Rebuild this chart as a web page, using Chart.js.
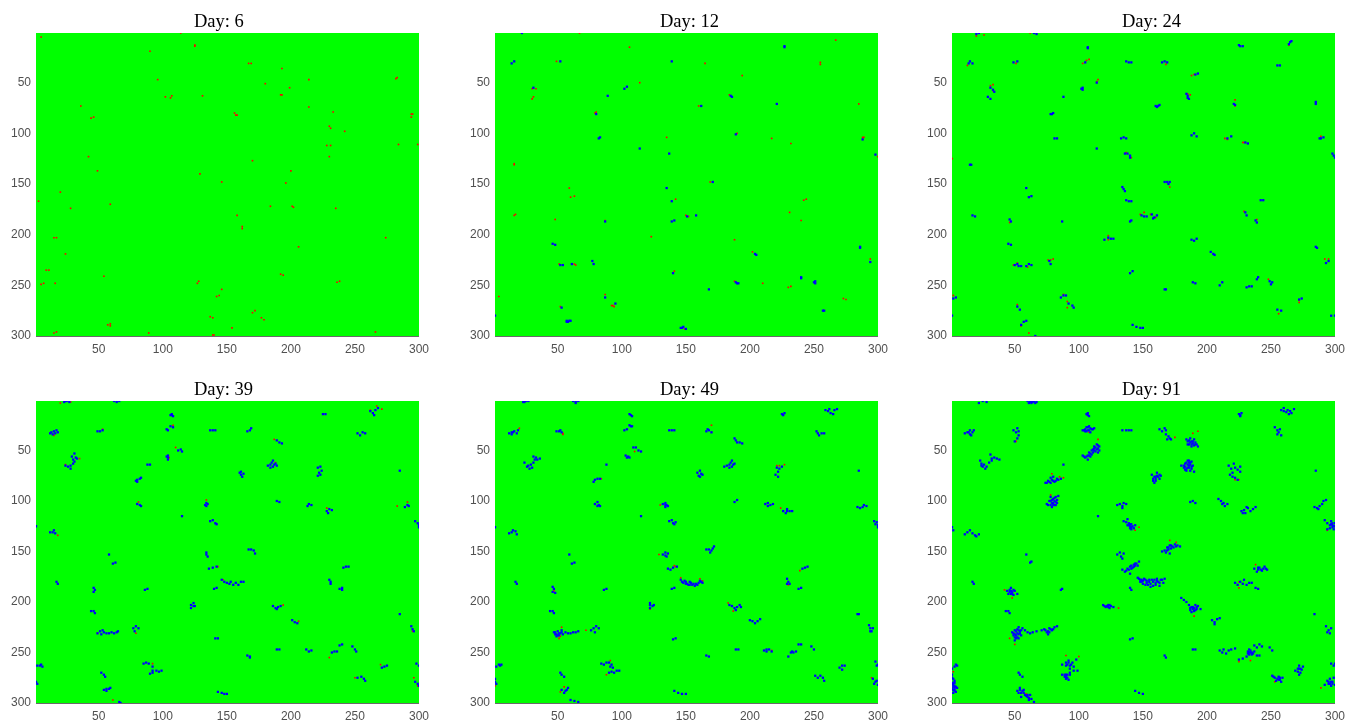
<!DOCTYPE html>
<html>
<head>
<meta charset="utf-8">
<title>Day panels</title>
<script src="https://cdn.jsdelivr.net/npm/chart.js@4"></script>
<style>
  html, body { margin: 0; padding: 0; background: #fff; overflow: hidden; }
  canvas { position: absolute; }
</style>
</head>
<body>
<script>
const tickValues = [50, 100, 150, 200, 250, 300];
const dayNames = ["Day: 6", "Day: 12", "Day: 24", "Day: 39", "Day: 49", "Day: 91"];

// [column, row] cells
const day6Red = [[5,5],[114,1],[90,19],[125,13],[125,14],[167,31],[169,31],[193,36],[96,47],[180,51],[214,47],[199,55],[282,46],[283,45],[192,62],[193,62],[102,64],[106,65],[107,63],[131,63],[36,73],[214,74],[156,80],[157,82],[158,82],[233,79],[44,85],[46,84],[294,81],[295,81],[294,84],[230,93],[231,95],[242,98],[284,111],[299,111],[228,112],[231,112],[230,123],[42,123],[170,127],[49,137],[200,137],[129,140],[146,148],[196,149],[20,158],[3,167],[59,170],[28,174],[184,172],[201,172],[202,173],[235,174],[158,181],[162,192],[162,194],[274,203],[15,203],[17,203],[206,212],[24,219],[9,235],[11,235],[54,241],[192,239],[194,240],[128,246],[127,248],[5,249],[7,248],[16,248],[236,247],[238,246],[146,254],[142,261],[144,260],[137,281],[139,282],[170,277],[172,275],[177,282],[179,284],[57,289],[59,288],[59,290],[15,297],[17,296],[89,297],[154,292],[139,299],[140,299],[266,296]];

const day12Blue = [[22,1],[14,31],[16,29],[52,29],[139,29],[227,14],[227,15],[31,55],[89,63],[102,56],[104,54],[185,63],[186,64],[162,73],[221,71],[80,81],[82,105],[83,104],[114,115],[288,106],[137,120],[298,121],[189,101],[171,148],[135,154],[139,167],[87,187],[139,187],[141,186],[158,181],[151,182],[46,209],[48,210],[286,212],[286,213],[204,219],[205,220],[52,230],[54,230],[61,229],[77,226],[78,229],[294,227],[140,238],[240,243],[240,242],[250,247],[251,248],[251,246],[189,247],[190,248],[191,248],[168,254],[95,268],[53,272],[57,286],[58,286],[59,285],[60,285],[57,285],[257,275],[258,275],[146,292],[147,292],[148,291],[150,293],[1,280],[87,262]];
const day12Red = [[67,1],[267,8],[106,15],[49,29],[165,31],[255,30],[255,32],[194,43],[114,50],[30,56],[33,56],[31,64],[30,66],[160,73],[184,62],[285,71],[79,80],[80,79],[135,104],[217,105],[232,110],[288,104],[289,104],[190,100],[300,123],[16,131],[16,130],[169,148],[59,154],[60,163],[63,162],[142,165],[242,166],[244,165],[231,178],[16,181],[17,180],[48,185],[240,186],[87,186],[150,181],[152,182],[123,202],[188,205],[202,217],[294,224],[51,229],[63,229],[64,230],[141,236],[188,246],[210,248],[230,252],[232,251],[4,261],[87,259],[92,270],[93,270],[94,271],[52,271],[273,263],[275,264],[149,293]];

const day24Blue = [[22,1],[20,2],[65,1],[67,2],[107,15],[107,16],[226,14],[225,13],[228,14],[265,10],[266,9],[264,12],[14,31],[15,29],[17,31],[49,30],[52,29],[137,29],[139,30],[141,30],[165,30],[167,29],[169,30],[255,33],[257,33],[105,30],[191,42],[193,41],[114,50],[31,55],[33,57],[34,59],[29,64],[31,66],[103,55],[103,57],[102,56],[88,64],[185,63],[185,65],[186,66],[184,61],[160,73],[162,73],[161,74],[163,72],[222,72],[221,71],[285,69],[285,71],[79,81],[80,80],[78,81],[81,105],[83,105],[133,105],[135,104],[137,105],[188,102],[190,100],[192,103],[216,105],[219,103],[230,109],[232,110],[288,105],[289,105],[291,104],[114,115],[136,120],[138,120],[140,122],[140,124],[298,120],[299,122],[300,124],[15,131],[16,131],[167,148],[169,148],[171,148],[170,150],[59,154],[61,163],[63,162],[134,153],[135,155],[136,157],[137,166],[139,167],[141,167],[242,166],[244,166],[17,181],[19,182],[46,185],[47,187],[87,187],[140,187],[141,186],[149,181],[151,182],[153,182],[157,180],[159,183],[161,181],[158,184],[230,178],[231,181],[238,186],[239,188],[120,205],[123,203],[125,204],[127,204],[188,205],[190,206],[192,204],[45,209],[47,210],[285,212],[286,213],[203,217],[205,219],[206,220],[50,230],[52,229],[53,231],[55,231],[59,231],[61,229],[63,230],[77,226],[78,229],[293,228],[295,226],[140,238],[142,236],[239,244],[240,242],[249,246],[250,249],[251,247],[189,247],[191,248],[210,250],[212,247],[231,252],[233,251],[235,251],[167,254],[168,254],[86,262],[88,260],[90,260],[92,268],[95,270],[96,272],[2,263],[4,262],[52,271],[54,274],[272,264],[274,263],[255,274],[258,275],[55,289],[57,286],[59,285],[142,289],[145,291],[148,292],[150,292],[1,280],[297,280],[300,280],[66,300]];
const day24Red = [[20,4],[26,3],[62,1],[264,13],[106,28],[108,27],[103,31],[13,33],[168,32],[51,31],[188,43],[190,42],[114,49],[115,47],[31,53],[33,52],[33,58],[185,61],[187,62],[222,67],[222,73],[289,103],[214,105],[216,106],[228,109],[229,109],[137,119],[141,124],[1,125],[171,153],[151,178],[148,180],[156,180],[160,183],[229,177],[239,185],[46,188],[123,201],[123,205],[52,228],[49,230],[60,232],[78,225],[80,224],[76,225],[292,224],[295,224],[248,244],[2,260],[88,259],[91,266],[52,269],[91,272],[272,265],[272,267],[256,278],[55,290],[61,297]];

const day39Blue = [[23,2],[25,1],[27,2],[24,1],[62,1],[64,2],[66,1],[106,15],[107,14],[108,16],[107,15],[225,14],[227,14],[262,11],[264,13],[265,15],[266,10],[268,8],[12,33],[13,32],[14,34],[15,31],[16,33],[17,30],[18,32],[49,31],[51,31],[53,30],[137,30],[139,30],[141,30],[166,31],[168,30],[169,28],[252,33],[254,35],[256,32],[258,33],[103,29],[104,30],[106,26],[108,27],[189,40],[191,42],[193,43],[104,55],[104,57],[104,59],[103,56],[112,50],[114,49],[115,51],[88,64],[90,64],[29,56],[31,53],[32,57],[30,59],[31,61],[33,58],[24,65],[26,66],[28,65],[30,63],[28,68],[182,65],[184,64],[185,62],[186,60],[187,64],[186,66],[188,63],[189,65],[184,67],[160,72],[161,74],[162,76],[163,73],[161,71],[221,67],[223,66],[224,70],[222,72],[221,75],[223,74],[285,70],[79,80],[80,79],[82,78],[83,77],[80,81],[80,103],[82,104],[83,105],[133,104],[134,105],[135,103],[134,102],[189,100],[191,101],[214,103],[216,104],[213,105],[228,110],[230,108],[232,109],[229,112],[289,106],[291,104],[292,105],[115,115],[137,120],[139,119],[141,122],[142,123],[1,125],[12,131],[14,131],[15,129],[16,132],[297,120],[299,122],[300,124],[300,126],[167,148],[169,148],[171,149],[172,152],[134,151],[134,153],[135,155],[58,153],[61,162],[63,161],[136,167],[139,166],[142,165],[241,166],[243,165],[245,165],[17,180],[18,182],[146,178],[148,180],[150,181],[152,182],[153,180],[155,183],[157,181],[159,183],[161,180],[163,180],[230,178],[231,180],[231,182],[238,187],[240,186],[240,188],[46,186],[47,188],[46,190],[86,188],[88,187],[140,187],[142,186],[122,203],[122,206],[124,201],[124,204],[125,204],[186,204],[188,206],[190,205],[192,204],[189,207],[44,209],[46,209],[47,211],[285,212],[201,218],[203,220],[205,221],[49,231],[51,229],[52,232],[53,228],[54,230],[56,231],[58,231],[60,230],[62,231],[64,230],[65,229],[77,226],[79,224],[81,226],[78,229],[294,224],[295,227],[296,229],[141,236],[143,236],[238,243],[240,242],[248,244],[250,247],[251,249],[189,247],[191,247],[212,247],[214,249],[216,248],[232,250],[234,249],[236,249],[166,253],[168,254],[168,255],[85,261],[87,260],[89,261],[92,264],[92,268],[90,271],[92,270],[95,268],[97,269],[99,268],[2,263],[4,263],[5,262],[6,264],[52,270],[54,272],[55,274],[271,265],[273,264],[275,263],[252,275],[255,274],[257,276],[258,278],[54,287],[56,288],[58,286],[59,285],[56,286],[143,289],[146,290],[148,291],[150,291],[1,279],[2,281],[298,261],[300,263],[297,279],[299,281],[300,283],[66,299],[67,300]];
const day39Red = [[20,3],[28,2],[267,6],[271,9],[262,10],[15,35],[108,25],[53,29],[110,47],[105,57],[35,58],[24,64],[187,39],[186,66],[188,62],[291,101],[283,105],[134,99],[81,101],[228,107],[142,123],[18,134],[143,165],[147,178],[270,262],[206,219],[49,231],[79,231],[194,203],[92,261],[250,275],[230,255],[295,229],[296,275],[299,283],[61,297]];

const day49Blue = [[23,2],[25,1],[27,1],[24,2],[62,1],[64,2],[66,1],[64,3],[106,14],[107,15],[108,16],[225,14],[226,15],[227,13],[259,10],[261,11],[263,13],[265,14],[266,10],[268,9],[262,9],[12,33],[14,34],[15,32],[16,31],[18,33],[19,30],[14,32],[49,31],[51,31],[53,32],[52,30],[137,30],[139,30],[141,30],[166,31],[167,29],[168,30],[170,32],[252,31],[253,33],[254,35],[256,33],[258,33],[102,30],[104,29],[106,25],[107,26],[108,26],[188,38],[189,40],[190,42],[192,42],[194,43],[103,55],[104,57],[105,56],[106,57],[109,47],[111,47],[113,50],[115,51],[88,64],[24,62],[26,66],[27,65],[29,64],[30,67],[31,62],[32,59],[31,56],[33,57],[34,59],[36,58],[28,68],[180,66],[182,65],[184,64],[185,62],[186,60],[187,64],[186,66],[188,63],[184,67],[159,72],[160,75],[161,76],[162,73],[163,74],[161,70],[221,67],[223,68],[225,66],[222,71],[220,74],[222,76],[285,70],[78,81],[79,79],[81,78],[83,78],[79,103],[81,101],[82,104],[83,105],[81,105],[132,103],[134,102],[135,104],[134,106],[136,105],[134,104],[188,101],[190,99],[212,103],[214,105],[216,104],[218,103],[214,102],[226,110],[228,112],[229,108],[231,110],[233,110],[229,110],[284,106],[286,107],[288,106],[289,104],[291,105],[115,115],[137,120],[139,119],[140,122],[141,123],[142,121],[1,126],[12,132],[14,131],[15,129],[17,130],[18,133],[297,120],[299,121],[300,124],[300,126],[298,123],[166,148],[168,148],[170,149],[171,147],[172,145],[169,151],[132,153],[134,151],[135,155],[136,152],[134,154],[59,153],[61,162],[63,161],[136,167],[138,168],[140,166],[143,165],[241,167],[243,166],[245,165],[17,180],[18,182],[146,178],[147,180],[148,181],[150,180],[151,182],[152,183],[154,181],[155,183],[157,184],[159,183],[160,181],[161,179],[162,180],[163,181],[149,179],[150,182],[153,180],[153,183],[156,182],[158,182],[229,177],[230,180],[231,182],[229,182],[238,187],[240,186],[46,185],[47,187],[46,190],[48,191],[86,188],[88,187],[139,187],[141,186],[122,201],[122,203],[122,206],[124,204],[125,203],[184,203],[186,204],[188,206],[190,205],[192,203],[189,208],[193,205],[44,209],[46,209],[47,211],[284,212],[285,212],[200,218],[202,219],[204,221],[206,219],[208,217],[47,230],[48,232],[49,234],[50,229],[52,231],[53,228],[54,232],[51,233],[56,230],[58,231],[48,230],[49,232],[50,233],[51,231],[53,230],[60,231],[62,230],[64,230],[66,229],[76,228],[78,226],[80,224],[82,226],[79,230],[293,223],[294,226],[295,229],[296,226],[294,229],[140,237],[142,236],[238,242],[240,242],[248,244],[250,247],[189,247],[191,247],[211,248],[213,249],[215,247],[217,249],[213,247],[230,254],[232,250],[233,249],[234,250],[236,249],[166,253],[168,254],[84,261],[86,262],[88,260],[90,260],[92,262],[91,264],[90,270],[92,269],[94,270],[96,268],[98,268],[93,265],[2,264],[4,262],[5,263],[6,262],[52,270],[53,272],[55,274],[270,265],[272,263],[274,263],[272,267],[251,273],[253,275],[255,273],[257,275],[258,278],[53,287],[55,290],[57,287],[58,285],[56,288],[141,288],[144,290],[147,291],[150,291],[1,276],[1,279],[2,281],[298,259],[299,263],[300,262],[296,276],[298,279],[300,282],[297,281],[299,278],[60,297],[63,298],[66,299]];
const day49Red = [[20,28],[54,34],[54,33],[170,25],[170,32],[110,51],[84,78],[221,65],[223,65],[227,64],[130,104],[224,107],[129,153],[141,164],[142,165],[146,176],[161,177],[163,179],[230,183],[47,189],[239,169],[122,207],[183,201],[187,209],[53,225],[52,234],[51,236],[72,228],[217,248],[91,258],[88,272],[55,284],[52,289],[1,283],[295,275]];

const day91Blue = [[22,3],[25,1],[28,2],[60,1],[62,2],[63,3],[64,2],[65,1],[66,3],[67,2],[63,1],[61,3],[106,14],[107,15],[108,16],[107,13],[225,14],[226,16],[227,13],[226,15],[258,10],[260,11],[262,12],[264,14],[263,10],[265,11],[268,9],[260,8],[266,13],[11,33],[13,32],[15,34],[15,30],[17,32],[18,30],[14,32],[16,35],[49,30],[51,32],[52,28],[53,31],[53,35],[52,38],[50,41],[134,30],[137,30],[139,30],[141,30],[163,29],[165,31],[167,28],[168,30],[168,34],[170,36],[171,38],[169,39],[172,39],[184,39],[185,41],[187,38],[188,41],[189,43],[190,39],[191,42],[192,44],[186,44],[188,46],[190,45],[253,27],[255,30],[256,32],[257,29],[255,34],[258,35],[103,30],[105,31],[106,27],[107,30],[108,26],[110,29],[112,28],[109,32],[105,29],[103,55],[105,57],[107,55],[108,52],[109,56],[110,50],[112,48],[113,51],[114,44],[115,48],[116,46],[110,54],[107,59],[115,52],[112,46],[88,64],[23,60],[24,63],[25,66],[26,64],[28,66],[27,68],[30,62],[32,58],[31,54],[32,60],[34,57],[36,58],[38,59],[24,65],[180,65],[182,67],[183,63],[185,60],[186,62],[187,64],[186,67],[188,61],[189,65],[184,70],[187,70],[190,71],[188,68],[183,69],[157,74],[158,78],[159,82],[160,76],[161,72],[162,76],[163,78],[164,75],[160,80],[217,65],[219,68],[221,63],[222,67],[224,69],[226,66],[226,71],[220,72],[218,74],[222,77],[224,79],[220,76],[285,70],[74,82],[76,80],[78,77],[80,80],[82,80],[84,79],[86,78],[78,82],[80,76],[75,103],[77,100],[78,96],[79,99],[80,102],[81,97],[82,104],[83,99],[84,95],[79,106],[80,104],[76,104],[130,104],[132,103],[134,105],[135,102],[137,103],[134,107],[187,101],[189,100],[191,102],[209,98],[211,100],[213,102],[214,105],[216,103],[212,103],[227,110],[229,109],[230,112],[232,107],[234,110],[236,108],[238,106],[228,112],[231,106],[284,106],[286,107],[288,105],[290,103],[291,100],[293,99],[287,108],[115,115],[135,120],[138,118],[139,122],[140,125],[141,123],[143,127],[141,128],[144,124],[138,124],[1,126],[2,129],[11,133],[13,131],[15,129],[17,132],[19,134],[20,135],[22,133],[292,119],[294,122],[296,124],[297,120],[298,126],[299,128],[300,122],[294,128],[300,125],[165,150],[167,149],[169,146],[170,148],[171,152],[172,144],[174,146],[175,143],[177,144],[179,145],[130,153],[132,151],[133,155],[135,152],[134,157],[59,153],[62,161],[63,160],[134,168],[136,170],[138,167],[140,172],[141,164],[142,166],[144,162],[146,164],[147,160],[143,163],[237,167],[239,170],[241,166],[243,169],[245,165],[247,168],[240,168],[17,180],[18,182],[146,176],[148,180],[149,178],[150,182],[151,177],[153,179],[154,183],[155,180],[157,178],[158,184],[160,181],[161,177],[162,180],[163,184],[165,178],[166,181],[167,177],[156,185],[222,181],[224,183],[226,180],[228,182],[229,178],[231,183],[233,181],[235,181],[238,186],[240,187],[44,189],[45,192],[46,188],[47,186],[48,190],[49,193],[50,189],[52,192],[86,188],[87,187],[140,186],[141,188],[119,203],[121,205],[123,203],[124,206],[125,204],[127,205],[180,196],[182,198],[184,200],[186,203],[187,206],[189,205],[191,203],[192,207],[190,209],[188,210],[193,204],[195,207],[43,209],[45,209],[46,211],[284,212],[204,218],[206,220],[208,217],[210,216],[206,222],[48,230],[49,233],[50,228],[51,236],[52,231],[53,225],[54,229],[55,233],[50,238],[56,226],[58,228],[53,236],[60,230],[62,231],[64,230],[67,229],[71,228],[73,227],[75,230],[77,226],[79,228],[81,225],[83,224],[76,232],[293,224],[295,228],[296,231],[294,230],[297,226],[140,237],[142,236],[237,243],[239,245],[241,242],[243,244],[249,245],[251,248],[189,247],[191,247],[210,248],[212,250],[213,247],[215,251],[217,248],[219,247],[222,246],[225,257],[228,256],[231,254],[233,250],[234,248],[235,252],[237,249],[239,253],[241,253],[233,247],[167,253],[168,255],[87,262],[90,260],[92,258],[94,262],[96,264],[98,257],[93,266],[90,263],[95,260],[87,272],[89,274],[90,276],[91,272],[93,270],[96,268],[99,268],[93,272],[92,277],[1,266],[3,264],[4,262],[5,263],[53,270],[54,272],[56,274],[269,268],[271,266],[272,263],[273,270],[274,267],[272,272],[275,264],[251,273],[253,275],[254,278],[256,274],[257,277],[258,279],[259,275],[52,288],[54,285],[55,290],[57,287],[58,292],[60,294],[62,292],[63,296],[55,294],[61,297],[144,288],[147,290],[150,291],[1,272],[2,276],[3,278],[1,281],[2,284],[3,287],[4,289],[1,286],[3,283],[5,285],[2,290],[297,261],[299,263],[300,261],[292,282],[294,278],[295,281],[296,276],[298,279],[299,275],[300,282],[297,283],[65,299]];
// the dense middles of the day 91 patches
const day91BlueDense = [[104,56],[106,56],[108,55],[109,53],[111,52],[112,50],[113,47],[114,49],[115,45],[116,50],[111,49],[104,30],[106,31],[108,30],[107,27],[109,28],[111,29],[186,40],[187,42],[188,44],[189,41],[191,44],[193,46],[185,44],[184,62],[185,64],[186,60],[187,62],[188,66],[185,67],[182,65],[183,66],[186,65],[184,68],[159,76],[160,78],[161,75],[163,74],[158,80],[78,100],[79,102],[80,98],[81,100],[82,96],[83,102],[81,104],[78,104],[82,101],[77,81],[79,79],[81,81],[83,78],[75,82],[139,124],[140,123],[141,126],[142,125],[140,127],[137,121],[147,177],[149,180],[150,179],[152,178],[153,181],[155,178],[156,182],[158,180],[159,178],[160,183],[161,179],[163,181],[164,178],[148,178],[152,183],[140,165],[141,167],[143,165],[144,164],[145,162],[137,169],[139,168],[49,231],[50,232],[51,229],[51,233],[52,235],[53,232],[53,228],[54,231],[50,235],[52,227],[55,228],[46,190],[47,189],[48,192],[49,188],[47,192],[232,251],[233,252],[234,250],[235,250],[236,251],[232,249],[2,280],[2,282],[3,285],[4,284],[2,287],[3,280],[1,275],[3,288],[56,288],[57,290],[59,293],[60,292],[61,295],[53,290],[54,287],[169,149],[170,146],[171,144],[173,145],[176,145],[172,147],[168,151],[122,204],[123,205],[124,203],[120,204],[188,205],[189,207],[190,206],[191,208],[192,205],[187,208],[295,279],[296,281],[297,279],[298,281],[297,123],[298,122],[298,124],[299,125],[296,127],[240,166],[242,168],[244,167],[246,167],[255,276],[256,277],[257,275],[252,274],[272,266],[273,266],[271,269],[74,228],[76,229],[78,227],[80,227],[77,230],[91,262],[92,260],[93,263],[89,272],[90,274],[91,275],[90,272]];
const day91Red = [[51,41],[108,32],[115,39],[193,31],[189,33],[175,37],[79,73],[85,76],[88,77],[78,94],[222,79],[225,79],[147,126],[144,129],[294,129],[171,139],[176,141],[238,163],[225,180],[225,186],[131,206],[190,214],[42,188],[48,196],[46,236],[50,242],[90,253],[100,254],[234,258],[225,259],[253,279],[2,269],[289,285],[59,291]];

const blueSeries = [[], day12Blue, day24Blue, day39Blue, day49Blue, day91Blue.concat(day91BlueDense)];
const redSeries = [day6Red, day12Red, day24Red, day39Red, day49Red, day91Red];

const plotLefts = [36, 495, 952];
const titleLefts = [194, 660, 1122];
const green = "#00ff00";
const axisGray = "#6a6a6a";
const tickGray = "#505050";

// green field behind the cells
const fieldPlugin = {
  id: "field",
  beforeDatasetsDraw(chart) {
    const a = chart.chartArea;
    chart.ctx.fillStyle = green;
    chart.ctx.fillRect(a.left, a.top, a.width, a.height);
  }
};

function setTicks(scale) {
  scale.ticks = tickValues.map(v => ({ value: v }));
}

function axisOpts(pos, size, labelled) {
  const horizontal = pos === "bottom" || pos === "top";
  return {
    type: "linear",
    position: pos,
    min: 1,
    max: 300,
    reverse: !horizontal,
    afterBuildTicks: setTicks,
    afterFit(scale) {
      if (horizontal) scale.height = size; else scale.width = size;
    },
    border: { display: true, color: axisGray, width: 1 },
    grid: { drawOnChartArea: false, drawTicks: true, tickLength: -3, color: "#555577" },
    ticks: {
      display: labelled,
      autoSkip: false,
      maxRotation: 0,
      color: tickGray,
      padding: horizontal ? 9 : 8,
      font: { family: "'Liberation Sans', Arial, sans-serif", size: 12 }
    }
  };
}

dayNames.forEach((name, i) => {
  const col = i % 3;
  const row = Math.floor(i / 3);
  const plotH = row === 0 ? 303 : 302;
  const canvasLeft = plotLefts[col] - 36;
  const canvas = document.createElement("canvas");
  canvas.width = 36 + 383 + 19;
  canvas.height = 33 + plotH + 20;
  canvas.style.left = canvasLeft + "px";
  canvas.style.top = (row === 0 ? 0 : 368) + "px";
  document.body.appendChild(canvas);

  // the titles sit off-centre in the reference, so move the title block over
  const titleShift = {
    id: "titleShift",
    afterLayout(chart) {
      chart.titleBlock.left = titleLefts[col] - canvasLeft;
    }
  };

  new Chart(canvas.getContext("2d"), {
    type: "scatter",
    data: {
      datasets: [
        { label: "blue", data: blueSeries[i], backgroundColor: "#0000ff", pointRadius: 1.6 },
        { label: "red", data: redSeries[i], backgroundColor: "#ff0000", pointRadius: 1.15 }
      ]
    },
    options: {
      responsive: false,
      animation: false,
      layout: { padding: { left: 0, right: 14, top: 0, bottom: 0 } },
      elements: { point: { pointStyle: "rect", borderWidth: 0 } },
      plugins: {
        legend: { display: false },
        tooltip: { enabled: false },
        title: {
          display: true,
          text: name,
          align: "start",
          color: "#000",
          font: { family: "'Liberation Serif', 'Times New Roman', serif", size: 18.5, weight: "normal" },
          padding: { top: 11.5, bottom: -0.7 }
        }
      },
      scales: {
        x: axisOpts("bottom", 20, true),
        y: axisOpts("left", 36, true),
        x2: axisOpts("top", 0, false),
        y2: axisOpts("right", 0, false)
      }
    },
    plugins: [fieldPlugin, titleShift]
  });
});
</script>
</body>
</html>
